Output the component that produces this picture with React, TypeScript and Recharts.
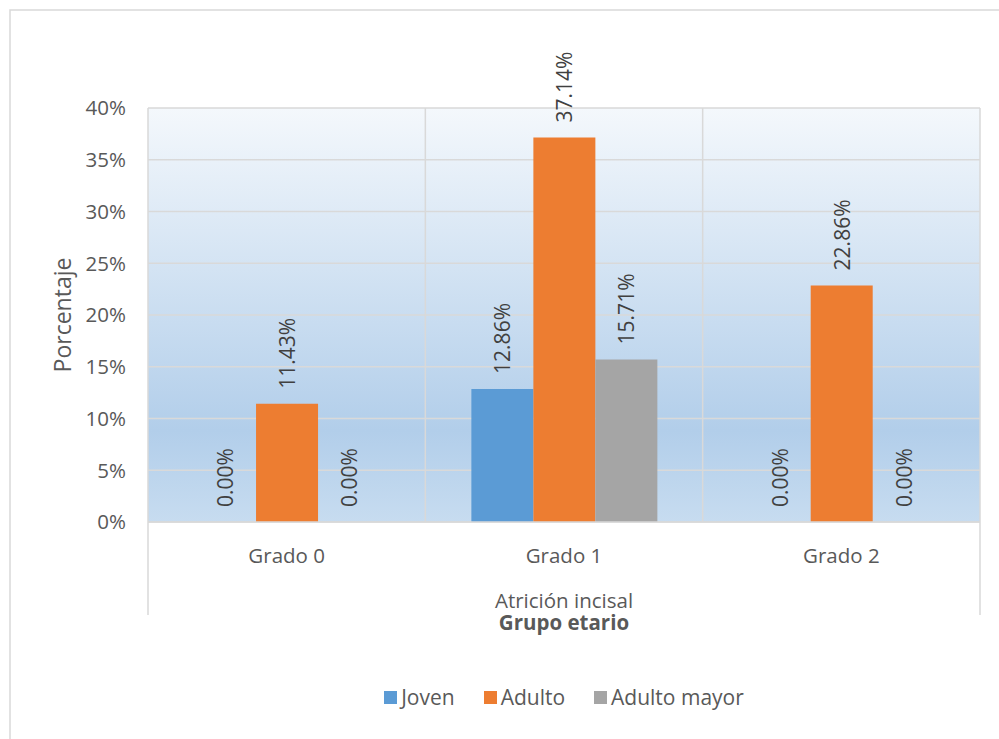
import React from 'react';
import { BarChart, Bar, XAxis, YAxis, CartesianGrid, LabelList, Legend } from 'recharts';

const categories = ['Grado 0', 'Grado 1', 'Grado 2'];
const joven = [0, 12.86, 0];
const adulto = [11.43, 37.14, 22.86];
const adultoMayor = [0, 15.71, 0];
const yTicks = [0, 5, 10, 15, 20, 25, 30, 35, 40];
const seriesKeys = ['joven', 'adulto', 'mayor'];
const seriesNames = ['Joven', 'Adulto', 'Adulto mayor'];
const seriesColors = ['#5B9BD5', '#ED7D31', '#A5A5A5'];
const yTitle = 'Porcentaje';
const xTitle1 = 'Atrición incisal';
const xTitle2 = 'Grupo etario';

const data = categories.map((c, i) => ({
  name: c,
  joven: joven[i],
  adulto: adulto[i],
  mayor: adultoMayor[i],
}));

const FONT = '"Open Sans", sans-serif';
const GRID = '#D9D9D9';

const RotLabel = (props: any) => {
  const { x, y, width, height, value } = props;
  const cx = x + width / 2;
  const top = height < 0 ? y + height : y;
  const ty = top - 15;
  return (
    <text
      x={cx}
      y={ty}
      transform={`rotate(-90, ${cx}, ${ty})`}
      textAnchor="start"
      dominantBaseline="central"
      fontFamily={FONT}
      fontSize={21}
      fill="#404040"
    >
      {Number(value).toFixed(2) + '%'}
    </text>
  );
};

const YTitle = (props: any) => {
  const vb = props.viewBox || {};
  const x = vb.x + 14;
  const y = vb.y + vb.height / 2;
  return (
    <text
      x={x}
      y={y}
      transform={`rotate(-90, ${x}, ${y})`}
      textAnchor="middle"
      dominantBaseline="central"
      fontFamily={FONT}
      fontSize={23}
      fill="#595959"
    >
      {yTitle}
    </text>
  );
};

const XTitle = (props: any) => {
  const vb = props.viewBox || {};
  const cx = vb.x + vb.width / 2;
  return (
    <g>
      <line x1={vb.x} x2={vb.x} y1={vb.y} y2={vb.y + 93} stroke={GRID} strokeWidth={1.5} />
      <line x1={vb.x + vb.width} x2={vb.x + vb.width} y1={vb.y} y2={vb.y + 93} stroke={GRID} strokeWidth={1.5} />
      <text x={cx} y={vb.y + 78} textAnchor="middle" dominantBaseline="central" fontFamily={FONT} fontSize={20.5} fill="#595959">
        {xTitle1}
      </text>
      <text x={cx} y={vb.y + 100} textAnchor="middle" dominantBaseline="central" fontFamily={FONT} fontSize={20.5} fontWeight="bold" fill="#595959">
        {xTitle2}
      </text>
    </g>
  );
};

const LegendContent = () => (
  <div style={{ display: 'flex', justifyContent: 'center', alignItems: 'center', fontFamily: FONT, fontSize: 21, color: '#595959' }}>
    {seriesNames.map((n, i) => (
      <div key={n} style={{ display: 'flex', alignItems: 'center', marginRight: i < seriesNames.length - 1 ? 29 : 0 }}>
        <div style={{ width: 13, height: 13, background: seriesColors[i], marginRight: 4 }} />
        <span>{n}</span>
      </div>
    ))}
  </div>
);

export default function App() {
  return (
    <div style={{ position: 'absolute', left: 0, top: 0, width: 999, height: 739, background: '#fff' }}>
      <BarChart
        width={999}
        height={739}
        data={data}
        margin={{ top: 108, right: 19, bottom: 117, left: 48 }}
        barCategoryGap="16.6%"
        barGap={0}
      >
        <defs>
          <linearGradient id="plotBg" x1="0" y1="0" x2="0" y2="1">
            <stop offset="0" stopColor="#F4F8FC" />
            <stop offset="0.78" stopColor="#B2CEEA" />
            <stop offset="1" stopColor="#C7DCF0" />
          </linearGradient>
        </defs>
        <rect x={10} y={10} width={1010} height={760} fill="none" stroke={GRID} strokeWidth={1.5} />
        <CartesianGrid
          stroke={GRID}
          strokeWidth={1.5}
          fill="url(#plotBg)"
          fillOpacity={1}
          verticalCoordinatesGenerator={({ offset }: any) =>
            [0, 1, 2, 3].map((i) => offset.left + (i * offset.width) / categories.length)
          }
        />
        <XAxis
          dataKey="name"
          height={100}
          tickLine={false}
          axisLine={{ stroke: GRID, strokeWidth: 1.5 }}
          tickMargin={20}
          tick={{ fontFamily: FONT, fontSize: 20.5, fill: '#595959' }}
          label={{ content: XTitle }}
        />
        <YAxis
          width={100}
          domain={[0, 40]}
          ticks={yTicks}
          tickFormatter={(v: number) => v + '%'}
          axisLine={false}
          tickLine={false}
          tickMargin={16}
          tick={{ fontFamily: FONT, fontSize: 20.5, fill: '#595959' }}
          label={{ content: YTitle }}
        />
        {seriesKeys.map((k, i) => (
          <Bar
            key={k}
            dataKey={k}
            name={seriesNames[i]}
            fill={seriesColors[i]}
            minPointSize={0.001}
            isAnimationActive={false}
          >
            <LabelList dataKey={k} content={RotLabel} />
          </Bar>
        ))}
        <Legend
          verticalAlign="middle"
          layout="horizontal"
          content={LegendContent}
          wrapperStyle={{ position: 'absolute', top: 683, left: 148, width: 832, height: 28 }}
        />
      </BarChart>
    </div>
  );
}
